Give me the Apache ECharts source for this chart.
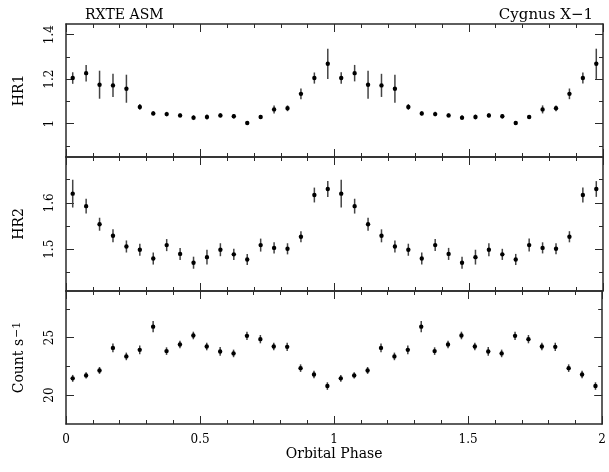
<!DOCTYPE html>
<html>
<head>
<meta charset="utf-8">
<script src="https://cdn.jsdelivr.net/npm/echarts@6/dist/echarts.min.js"></script>
<style>
html,body{margin:0;padding:0;background:#fff;}
#chart{width:609px;height:472px;}
</style>
</head>
<body>
<div id="chart"></div>
<script>
// Orbital phase bin centres (two cycles shown)
const phase = [0.025,0.075,0.125,0.175,0.225,0.275,0.325,0.375,0.425,0.475,
               0.525,0.575,0.625,0.675,0.725,0.775,0.825,0.875,0.925,0.975,
               1.025,1.075,1.125,1.175,1.225,1.275,1.325,1.375,1.425,1.475,
               1.525,1.575,1.625,1.675,1.725,1.775,1.825,1.875,1.925,1.975];

const hr1 = [1.205,1.227,1.175,1.172,1.157,1.075,1.046,1.043,1.037,1.027,
             1.030,1.037,1.033,1.003,1.030,1.064,1.069,1.134,1.205,1.269,
             1.205,1.227,1.175,1.172,1.157,1.075,1.046,1.043,1.037,1.027,
             1.030,1.037,1.033,1.003,1.030,1.064,1.069,1.134,1.205,1.269];
const hr1Err = [0.026,0.037,0.063,0.052,0.063,0.013,0.010,0.010,0.009,0.011,
                0.011,0.010,0.010,0.008,0.009,0.018,0.013,0.024,0.025,0.068,
                0.026,0.037,0.063,0.052,0.063,0.013,0.010,0.010,0.009,0.011,
                0.011,0.010,0.010,0.008,0.009,0.018,0.013,0.024,0.025,0.068];

const hr2 = [1.620,1.593,1.554,1.529,1.506,1.499,1.480,1.509,1.490,1.471,
             1.483,1.499,1.489,1.478,1.509,1.503,1.501,1.527,1.617,1.630,
             1.620,1.593,1.554,1.529,1.506,1.499,1.480,1.509,1.490,1.471,
             1.483,1.499,1.489,1.478,1.509,1.503,1.501,1.527,1.617,1.630];
const hr2Err = [0.030,0.016,0.014,0.014,0.013,0.013,0.013,0.013,0.013,0.013,
                0.016,0.014,0.012,0.012,0.014,0.012,0.012,0.012,0.016,0.017,
                0.030,0.016,0.014,0.014,0.013,0.013,0.013,0.013,0.013,0.013,
                0.016,0.014,0.012,0.012,0.014,0.012,0.012,0.012,0.016,0.017];

const rate = [21.45,21.71,22.14,24.10,23.36,23.93,25.95,23.82,24.40,25.18,
              24.22,23.79,23.62,25.15,24.86,24.22,24.19,22.34,21.79,20.78,
              21.45,21.71,22.14,24.10,23.36,23.93,25.95,23.82,24.40,25.18,
              24.22,23.79,23.62,25.15,24.86,24.22,24.19,22.34,21.79,20.78];
const rateErr = [0.30,0.28,0.30,0.38,0.33,0.38,0.48,0.33,0.33,0.33,
                 0.33,0.38,0.33,0.36,0.36,0.33,0.36,0.33,0.33,0.33,
                 0.30,0.28,0.30,0.38,0.33,0.38,0.48,0.33,0.33,0.33,
                 0.33,0.38,0.33,0.36,0.36,0.33,0.36,0.33,0.33,0.33];

// Axis ranges and tick values
const hr1Range = [0.85, 1.448];
const hr1Major = [1.0, 1.2, 1.4];
const hr1Minor = [0.9, 1.1, 1.3];
const hr2Range = [1.41, 1.699];
const hr2Major = [1.5, 1.6];
const hr2Minor = [1.45, 1.55, 1.65];
const rateRange = [17.48, 29.05];
const rateMajor = [20, 25];
const rateMinor = [22.5, 27.5];

const xTickLabels = ['0', '0.5', '1', '1.5', '2'];

const FONT = 'DejaVu Serif';
const AX = '#2a2a2a';

const panels = [
  {name: 'HR1', range: hr1Range, major: hr1Major, minor: hr1Minor, y: hr1, e: hr1Err},
  {name: 'HR2', range: hr2Range, major: hr2Major, minor: hr2Minor, y: hr2, e: hr2Err},
  {name: '{n|Count s}{sup|\u22121}', range: rateRange, major: rateMajor, minor: rateMinor, y: rate, e: rateErr}
];
const grids = [
  {left: 66, right: 6, top: 24, height: 133},
  {left: 66, right: 6, top: 157, height: 134},
  {left: 66, right: 6, top: 291, height: 133}
];

const xAxes = [], yAxes = [], series = [];
panels.forEach((p, g) => {
  const isBottom = g === panels.length - 1;
  // bottom x
  xAxes.push({
    type: 'value', gridIndex: g, position: 'bottom', min: 0, max: 2, interval: 0.5,
    axisLine: {show: true, lineStyle: {color: AX, width: 1.5}},
    axisTick: {show: true, inside: true, length: 8, lineStyle: {color: AX, width: 1}},
    minorTick: {show: true, splitNumber: 5, length: 4, lineStyle: {color: AX, width: 1}},
    splitLine: {show: false},
    axisLabel: {show: isBottom, margin: 10, color: '#000', fontFamily: FONT, fontSize: 12,
      formatter: v => xTickLabels[Math.round(v / 0.5)]},
    name: isBottom ? 'Orbital Phase' : '', nameLocation: 'middle', nameGap: 21,
    nameTextStyle: {color: '#000', fontFamily: FONT, fontSize: 14}
  });
  // top x
  xAxes.push({
    type: 'value', gridIndex: g, position: 'top', min: 0, max: 2, interval: 0.5,
    axisLine: {show: true, lineStyle: {color: AX, width: 1.5}},
    axisTick: {show: true, inside: true, length: 8, lineStyle: {color: AX, width: 1}},
    minorTick: {show: true, splitNumber: 5, length: 4, lineStyle: {color: AX, width: 1}},
    splitLine: {show: false}, axisLabel: {show: false}
  });
  const base = {type: 'value', gridIndex: g, min: p.range[0], max: p.range[1], splitLine: {show: false}};
  // left major
  yAxes.push(Object.assign({}, base, {
    position: 'left',
    axisLine: {show: true, lineStyle: {color: AX, width: 1.5}},
    axisTick: {show: true, inside: true, length: 8, customValues: p.major, lineStyle: {color: AX, width: 1}},
    axisLabel: {show: true, customValues: p.major, rotate: 90, margin: 10, color: '#000',
      fontFamily: FONT, fontSize: 12},
    name: p.name, nameLocation: 'middle', nameGap: 40,
    nameTextStyle: {color: '#000', fontFamily: FONT, fontSize: 14,
      rich: {
        n: {fontFamily: FONT, fontSize: 14, color: '#000', lineHeight: 14, verticalAlign: 'bottom'},
        sup: {fontFamily: FONT, fontSize: 11, color: '#000', lineHeight: 11, verticalAlign: 'top', padding: [0, 0, 10, 1]}
      }}
  }));
  // left minor
  yAxes.push(Object.assign({}, base, {
    position: 'left', axisLine: {show: false}, axisLabel: {show: false},
    axisTick: {show: true, inside: true, length: 4, customValues: p.minor, lineStyle: {color: AX, width: 1}}
  }));
  // right major
  yAxes.push(Object.assign({}, base, {
    position: 'right',
    axisLine: {show: true, lineStyle: {color: AX, width: 1.5}},
    axisTick: {show: true, inside: true, length: 8, customValues: p.major, lineStyle: {color: AX, width: 1}},
    axisLabel: {show: false}
  }));
  // right minor
  yAxes.push(Object.assign({}, base, {
    position: 'right', axisLine: {show: false}, axisLabel: {show: false},
    axisTick: {show: true, inside: true, length: 4, customValues: p.minor, lineStyle: {color: AX, width: 1}}
  }));

  const data = phase.map((x, i) => [x, p.y[i], p.e[i]]);
  series.push({
    type: 'custom', xAxisIndex: 2 * g, yAxisIndex: 4 * g,
    encode: {x: 0, y: 1}, data: data, clip: false, silent: true,
    renderItem: function (params, api) {
      const x = api.value(0), y = api.value(1), e = api.value(2);
      const c = api.coord([x, y]);
      const lo = api.coord([x, y - e]);
      const hi = api.coord([x, y + e]);
      return {
        type: 'group',
        children: [
          {type: 'line', shape: {x1: c[0], y1: lo[1], x2: c[0], y2: hi[1]},
           style: {stroke: '#444', lineWidth: 1.5}},
          {type: 'circle', shape: {cx: c[0], cy: c[1], r: 2.2}, style: {fill: '#000'}}
        ]
      };
    }
  });
});

const chart = echarts.init(document.getElementById('chart'), null, {renderer: 'canvas'});
chart.setOption({
  animation: false,
  backgroundColor: '#fff',
  title: [
    {text: 'RXTE ASM', left: 80, top: 3, textStyle: {fontFamily: FONT, fontSize: 14, fontWeight: 'normal', color: '#000'}},
    {text: 'Cygnus X\u22121', right: 11, top: 3, textStyle: {fontFamily: FONT, fontSize: 15, fontWeight: 'normal', color: '#000'}}
  ],
  grid: grids,
  xAxis: xAxes,
  yAxis: yAxes,
  series: series
});
</script>
</body>
</html>
